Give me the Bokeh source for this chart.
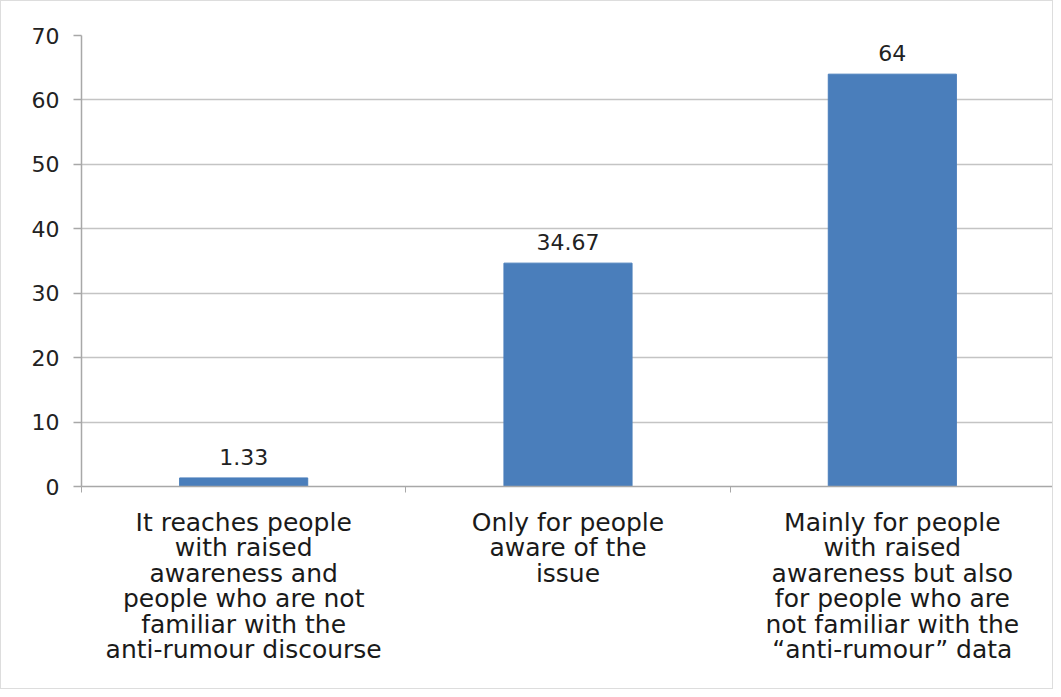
from bokeh.plotting import figure
from bokeh.models import Range1d, LinearAxis, FixedTicker, ColumnDataSource, LabelSet
from bokeh.core.properties import value
from bokeh.embed import file_html
from bokeh.resources import INLINE

categories = [
    "It reaches people\nwith raised\nawareness and\npeople who are not\nfamiliar with the\nanti-rumour discourse",
    "Only for people\naware of the\nissue",
    "Mainly for people\nwith raised\nawareness but also\nfor people who are\nnot familiar with the\n\u201canti-rumour\u201d data",
]
values = [1.33, 34.67, 64]
value_labels = ["1.33", "34.67", "64"]
y_ticks = [0, 10, 20, 30, 40, 50, 60, 70]

FONT = "DejaVu Sans"

W, H = 1053, 689
p = figure(width=W, height=H, output_backend="svg", toolbar_location=None,
           x_range=Range1d(0, len(categories)), y_range=Range1d(0, 70),
           min_border_left=80, min_border_top=34, min_border_right=0,
           min_border_bottom=H - 485, x_axis_location=None)
p.outline_line_color = None
p.background_fill_color = "white"
p.border_fill_color = "white"

xs = [i + 0.5 for i in range(len(categories))]
src = ColumnDataSource(dict(x=xs, top=values, lab=value_labels))
p.vbar(x="x", top="top", bottom=0, width=0.395, source=src,
       fill_color="#4a7ebb", line_color="#4a7ebb")

labels = LabelSet(x="x", y="top", text="lab", source=src, x_offset=0, y_offset=13,
                  text_align="center", text_baseline="bottom",
                  text_font=value(FONT), text_font_size="22px", text_color="#222222")
p.add_layout(labels)

# y axis
yax = p.yaxis[0]
yax.ticker = FixedTicker(ticks=y_ticks)
yax.axis_line_color = "#a8a8a8"
yax.axis_line_width = 1.5
yax.major_tick_line_color = "#a8a8a8"
yax.major_tick_line_width = 1.5
yax.major_tick_out = 8
yax.major_tick_in = 0
yax.minor_tick_line_color = None
yax.major_label_text_font = FONT
yax.major_label_text_font_size = "22px"
yax.major_label_text_color = "#222222"
yax.major_label_standoff = 14

p.ygrid.ticker = FixedTicker(ticks=y_ticks)
p.ygrid.grid_line_color = "#c4c4c4"
p.ygrid.grid_line_width = 1.5
p.xgrid.grid_line_color = None

# x axis with ticks at category boundaries
bticks = list(range(len(categories) + 1))
xb = LinearAxis(ticker=FixedTicker(ticks=bticks),
                major_label_overrides={t: "" for t in bticks})
xb.axis_line_color = "#a8a8a8"
xb.axis_line_width = 1.5
xb.major_tick_line_color = "#a8a8a8"
xb.major_tick_out = 6
xb.major_tick_in = 0
xb.minor_tick_line_color = None
xb.major_label_standoff = 0
p.add_layout(xb, "below")

# category labels axis
xl = LinearAxis(ticker=FixedTicker(ticks=xs),
                major_label_overrides={x: c for x, c in zip(xs, categories)})
xl.axis_line_color = None
xl.major_tick_line_color = None
xl.minor_tick_line_color = None
xl.major_label_text_font = FONT
xl.major_label_text_font_size = "25px"
xl.major_label_text_color = "#1a1a1a"
xl.major_label_text_align = "center"
xl.major_label_standoff = 9
xl.major_label_text_line_height = 0.88
p.add_layout(xl, "below")

p.styles = {"border": "1px solid #dddddd"}

open("out.html", "w").write(file_html(p, INLINE))
